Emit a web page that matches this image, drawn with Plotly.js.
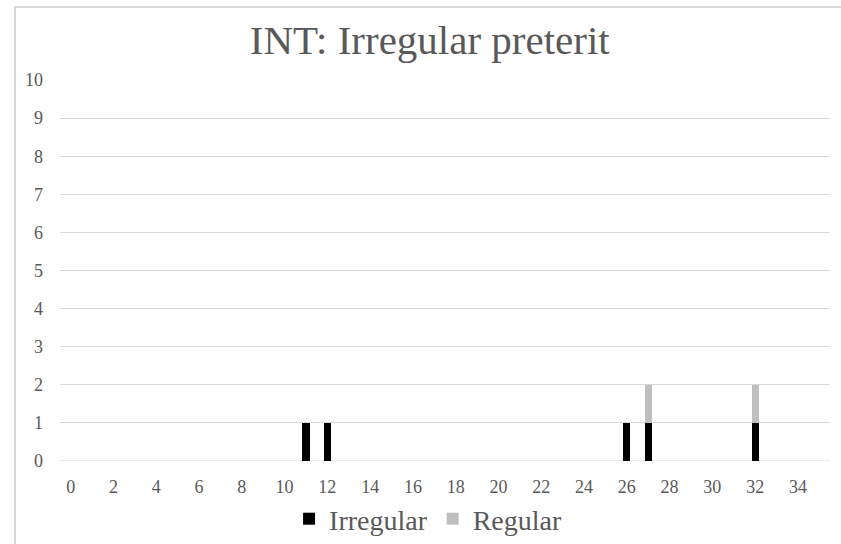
<!DOCTYPE html>
<html>
<head>
<meta charset="utf-8">
<script src="https://cdn.plot.ly/plotly-3.0.1.min.js"></script>
<style>
  html, body { margin: 0; padding: 0; background: #ffffff; }
  #frame { position: absolute; left: 0; top: 0; width: 841px; height: 544px; }
  #edge { position: absolute; left: 14px; top: 6px; width: 827px; height: 538px;
          border-left: 2px solid #d9d9d9; border-top: 2px solid #d9d9d9; box-sizing: border-box; pointer-events: none; }
  #chart { position: absolute; left: 0; top: 0; width: 841px; height: 544px; }
</style>
</head>
<body>
<div id="frame">
  <div id="chart"></div>
  <div id="edge"></div>
</div>
<script>
const categories = [0,1,2,3,4,5,6,7,8,9,10,11,12,13,14,15,16,17,18,19,20,21,22,23,24,25,26,27,28,29,30,31,32,33,34,35];
const irregular  = [0,0,0,0,0,0,0,0,0,0,0,1,1,0,0,0,0,0,0,0,0,0,0,0,0,0,1,1,0,0,0,0,1,0,0,0];
const regular    = [0,0,0,0,0,0,0,0,0,0,0,0,0,0,0,0,0,0,0,0,0,0,0,0,0,0,0,1,0,0,0,0,1,0,0,0];
const xTickLabels = [0,2,4,6,8,10,12,14,16,18,20,22,24,26,28,30,32,34];
const yTickLabels = [0,1,2,3,4,5,6,7,8,9,10];

const serif = "Liberation Serif, Times New Roman, serif";
const grey = "#595959";

const traces = [
  { type: "bar", name: "Irregular", x: categories, y: irregular,
    marker: { color: "#000000" }, hoverinfo: "x+y" },
  { type: "bar", name: "Regular", x: categories, y: regular,
    marker: { color: "#bfbfbf" }, hoverinfo: "x+y" }
];

const layout = {
  width: 841, height: 544,
  margin: { l: 60, r: 11, t: 80, b: 83 },
  paper_bgcolor: "rgba(0,0,0,0)",
  plot_bgcolor: "#ffffff",
  barmode: "stack",
  bargap: 0.67,
  showlegend: true,
  title: { text: "INT: Irregular preterit", x: 0.511, xanchor: "center", xref: "container",
           y: 44, yref: "container", yanchor: "middle",
           font: { family: serif, size: 41, color: grey } },
  xaxis: {
    range: [-0.5, 35.5], tickmode: "array", tickvals: xTickLabels, ticktext: xTickLabels.map(String),
    showgrid: false, zeroline: false, showline: false, ticks: "",
    ticklabelstandoff: 13,
    tickfont: { family: serif, size: 18, color: grey }
  },
  yaxis: {
    range: [0, 10], tickmode: "array", tickvals: yTickLabels, ticktext: yTickLabels.map(String),
    showgrid: true, gridcolor: "#d9d9d9", gridwidth: 1, zeroline: false, showline: false, ticks: "",
    ticklabelstandoff: 16,
    tickfont: { family: serif, size: 18, color: grey }
  },
  legend: { orientation: "h", x: 0.509, xanchor: "center", xref: "container",
            y: 22, yref: "container", yanchor: "middle",
            font: { family: serif, size: 28, color: grey },
            itemwidth: 30, traceorder: "normal" }
};

layout.shapes = [{ type: "line", xref: "paper", yref: "y", x0: 0, x1: 1, y0: 0, y1: 0,
                   line: { color: "#d9d9d9", width: 1 }, layer: "below" }];

Plotly.newPlot("chart", traces, layout, { displayModeBar: false, staticPlot: true });
</script>
</body>
</html>
